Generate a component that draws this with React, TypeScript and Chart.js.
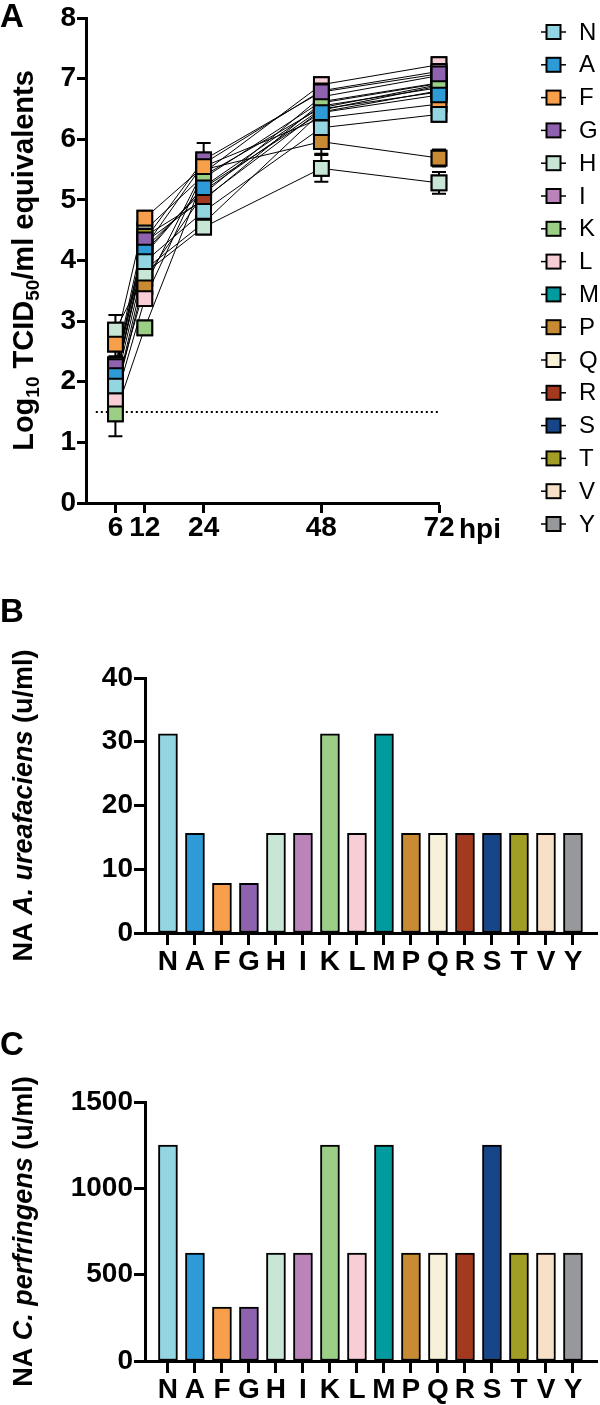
import React, { useEffect, useRef } from 'react';
import { Chart, registerables } from 'chart.js';

Chart.register(...registerables);
Chart.defaults.font.family = "'Liberation Sans', Arial, sans-serif";
Chart.defaults.color = '#000';

// ---------- data ----------
const groups = ['N', 'A', 'F', 'G', 'H', 'I', 'K', 'L', 'M', 'P', 'Q', 'R', 'S', 'T', 'V', 'Y'];
const groupColors = [
  '#93D5E0', '#2E9BD6', '#F79F4B', '#8E62AE', '#C7E6D5', '#BA84BB', '#9ACF85', '#F7CDD6',
  '#009B9E', '#C88B34', '#F7F1D9', '#A3391F', '#174688', '#A29D25', '#F6E0C7', '#97989C',
];
const timePoints = [6, 12, 24, 48, 72];
const xTicksA = [6, 12, 24, 48, 72];
const yTicksA = [0, 1, 2, 3, 4, 5, 6, 7, 8];
const detectionLimit = 1.5;

const titerN = [1.93, 3.98, 4.81, 6.19, 6.41];
const titerA = [2.10, 4.14, 5.20, 6.44, 6.73];
const titerF = [2.62, 4.70, 5.55, 6.35, 6.58];
const titerG = [2.25, 4.34, 5.66, 6.78, 7.08];
const titerH = [2.85, 3.79, 4.55, 5.52, 5.28];
const titerI = [2.20, 4.22, 5.60, 6.80, 7.12];
const titerK = [1.47, 2.89, 5.36, 6.62, 6.93];
const titerL = [1.69, 3.37, 5.45, 6.90, 7.23];
const titerM = [2.05, 4.10, 5.22, 6.55, 6.85];
const titerP = [1.85, 3.57, 5.50, 5.96, 5.69];
const titerQ = [1.78, 3.85, 4.62, 6.45, 6.80];
const titerR = [2.15, 4.30, 5.02, 6.48, 6.88];
const titerS = [2.00, 4.20, 5.15, 6.50, 6.78];
const titerT = [2.18, 4.40, 5.00, 6.60, 6.92];
const titerV = [1.75, 3.70, 5.10, 6.70, 7.05];
const titerY = [2.28, 4.50, 5.40, 6.52, 6.90];

const sdN = [0.10, 0.08, 0.08, 0.10, 0.08];
const sdA = [0.08, 0.08, 0.08, 0.08, 0.08];
const sdF = [0.20, 0.08, 0.08, 0.08, 0.08];
const sdG = [0.10, 0.10, 0.28, 0.08, 0.08];
const sdH = [0.25, 0.10, 0.10, 0.22, 0.18];
const sdI = [0.08, 0.08, 0.08, 0.08, 0.08];
const sdK = [0.37, 0.10, 0.10, 0.08, 0.08];
const sdL = [0.10, 0.10, 0.10, 0.07, 0.08];
const sdM = [0.08, 0.08, 0.08, 0.08, 0.08];
const sdP = [0.10, 0.10, 0.10, 0.20, 0.14];
const sdQ = [0.08, 0.08, 0.08, 0.08, 0.08];
const sdR = [0.08, 0.08, 0.08, 0.08, 0.08];
const sdS = [0.08, 0.08, 0.08, 0.08, 0.08];
const sdT = [0.08, 0.08, 0.08, 0.08, 0.08];
const sdV = [0.08, 0.08, 0.08, 0.08, 0.08];
const sdY = [0.08, 0.08, 0.08, 0.08, 0.08];

const titers = [titerN, titerA, titerF, titerG, titerH, titerI, titerK, titerL, titerM, titerP, titerQ, titerR, titerS, titerT, titerV, titerY];
const sds = [sdN, sdA, sdF, sdG, sdH, sdI, sdK, sdL, sdM, sdP, sdQ, sdR, sdS, sdT, sdV, sdY];

const naUreafaciens = [31.25, 15.63, 7.81, 7.81, 15.63, 15.63, 31.25, 15.63, 31.25, 15.63, 15.63, 15.63, 15.63, 15.63, 15.63, 15.63];
const naPerfringens = [1250, 625, 312.5, 312.5, 625, 625, 1250, 625, 1250, 625, 625, 625, 1250, 625, 625, 625];
const yTicksB = [0, 10, 20, 30, 40];
const yTicksC = [0, 500, 1000, 1500];

// ---------- helpers ----------
const FONT = "'Liberation Sans', Arial, sans-serif";

type Part = { text: string; font: string; dy?: number };

function drawVerticalRich(ctx: CanvasRenderingContext2D, parts: Part[], baselineX: number, centerY: number) {
  ctx.save();
  ctx.translate(baselineX, centerY);
  ctx.rotate(-Math.PI / 2);
  let total = 0;
  parts.forEach((p) => { ctx.font = p.font; total += ctx.measureText(p.text).width; });
  let x = -total / 2;
  ctx.fillStyle = '#000';
  ctx.textAlign = 'left';
  ctx.textBaseline = 'alphabetic';
  parts.forEach((p) => {
    ctx.font = p.font;
    ctx.fillText(p.text, x, p.dy || 0);
    x += ctx.measureText(p.text).width;
  });
  ctx.restore();
}

function drawPanelLetter(ctx: CanvasRenderingContext2D, letter: string, y: number) {
  ctx.save();
  ctx.font = `bold 33px ${FONT}`;
  ctx.fillStyle = '#000';
  ctx.textAlign = 'left';
  ctx.textBaseline = 'alphabetic';
  ctx.fillText(letter, 0, y);
  ctx.restore();
}

function fixFit(size: { width?: number; height?: number }) {
  return (s: any) => {
    if (size.width !== undefined) s.width = size.width;
    if (size.height !== undefined) s.height = size.height;
    s.paddingLeft = 0; s.paddingRight = 0; s.paddingTop = 0; s.paddingBottom = 0;
  };
}

const axisGrid = (tickLength: number) => ({
  display: true, drawOnChartArea: false, drawTicks: true, tickLength, tickWidth: 3, tickColor: '#000', offset: false,
});
const axisBorder = { display: true, width: 3, color: '#000' };
const plainNumber = (v: number) => String(v);

// ---------- panel A ----------
function configA(): any {
  const datasets: any[] = groups.map((g, i) => ({
    label: g,
    data: timePoints.map((t, j) => ({ x: t, y: titers[i][j] })),
    borderColor: '#000',
    borderWidth: 1,
    pointStyle: 'rect',
    pointRadius: 10.4,
    pointHoverRadius: 10.4,
    pointBackgroundColor: groupColors[i],
    pointBorderColor: '#000',
    pointBorderWidth: 2,
    fill: false,
    tension: 0,
    clip: false,
  }));
  datasets.push({
    label: 'limit',
    data: [{ x: 2, y: detectionLimit }, { x: 72, y: detectionLimit }],
    borderColor: '#000',
    borderWidth: 2,
    borderDash: [2, 3],
    pointRadius: 0,
    fill: false,
    order: 100,
  });
  const decor = {
    id: 'decorA',
    afterDatasetsDraw(chart: any) {
      const ctx = chart.ctx;
      const xs = chart.scales.x, ys = chart.scales.y;
      ctx.save();
      ctx.strokeStyle = '#000';
      ctx.lineWidth = 2;
      titers.forEach((vals, i) => vals.forEach((v, j) => {
        const sd = sds[i][j];
        const px = xs.getPixelForValue(timePoints[j]);
        const top = ys.getPixelForValue(v + sd);
        const bot = ys.getPixelForValue(v - sd);
        ctx.beginPath();
        ctx.moveTo(px, top); ctx.lineTo(px, bot);
        ctx.moveTo(px - 7, top); ctx.lineTo(px + 7, top);
        ctx.moveTo(px - 7, bot); ctx.lineTo(px + 7, bot);
        ctx.stroke();
      }));
      ctx.restore();
      // markers on top of every line; first groups end up on top
      for (let i = groups.length - 1; i >= 0; i--) {
        const meta = chart.getDatasetMeta(i);
        meta.data.forEach((p: any) => p.draw(ctx, chart.chartArea));
      }
    },
    afterDraw(chart: any) {
      const ctx = chart.ctx;
      const area = chart.chartArea;
      drawPanelLetter(ctx, 'A', 27);
      const big = `bold 29px ${FONT}`;
      const sub = `bold 19px ${FONT}`;
      drawVerticalRich(ctx, [
        { text: 'Log', font: big },
        { text: '10', font: sub, dy: 6 },
        { text: ' TCID', font: big },
        { text: '50', font: sub, dy: 6 },
        { text: '/ml equivalents', font: big },
      ], 33, (area.top + area.bottom) / 2);
      // hpi label
      ctx.save();
      ctx.font = `bold 28px ${FONT}`;
      ctx.fillStyle = '#000';
      ctx.textAlign = 'left';
      ctx.textBaseline = 'alphabetic';
      ctx.fillText('hpi', 459, 538);
      ctx.restore();
      // legend
      ctx.save();
      groups.forEach((g, i) => {
        const cy = 32 + i * 32.8;
        ctx.strokeStyle = '#000';
        ctx.lineWidth = 1.5;
        ctx.beginPath();
        ctx.moveTo(541, cy); ctx.lineTo(566, cy);
        ctx.stroke();
        ctx.fillStyle = groupColors[i];
        ctx.fillRect(546.5, cy - 7, 14, 14);
        ctx.lineWidth = 2;
        ctx.strokeRect(546.5, cy - 7, 14, 14);
        ctx.fillStyle = '#000';
        ctx.font = `24px ${FONT}`;
        ctx.textAlign = 'left';
        ctx.textBaseline = 'middle';
        ctx.fillText(g, 579, cy + 1);
      });
      ctx.restore();
    },
  };
  return {
    type: 'line',
    data: { datasets },
    plugins: [decor],
    options: {
      responsive: false,
      animation: false,
      devicePixelRatio: 1,
      layout: { padding: { top: 18, right: 161, left: 0, bottom: 0 } },
      plugins: { legend: { display: false }, tooltip: { enabled: false } },
      scales: {
        x: {
          type: 'linear', min: 0, max: 72,
          afterBuildTicks: (s: any) => { s.ticks = xTicksA.map((v) => ({ value: v })); },
          afterFit: fixFit({ height: 57 }),
          grid: axisGrid(10),
          border: axisBorder,
          ticks: { font: { size: 28, weight: 'bold', lineHeight: 1 }, color: '#000', padding: 1, maxRotation: 0, autoSkip: false, callback: plainNumber },
        },
        y: {
          type: 'linear', min: 0, max: 8,
          afterBuildTicks: (s: any) => { s.ticks = yTicksA.map((v) => ({ value: v })); },
          afterFit: fixFit({ width: 86 }),
          grid: axisGrid(9),
          border: axisBorder,
          ticks: { font: { size: 28, weight: 'bold' }, color: '#000', padding: 1, callback: plainNumber },
        },
      },
    },
  };
}

// ---------- panels B & C ----------
function configBar(values: number[], yTicks: number[], yMax: number, title: Part[], letter: string, letterY: number, padTop: number, xHeight: number): any {
  const decor = {
    id: 'decorBar' + letter,
    afterDraw(chart: any) {
      const ctx = chart.ctx;
      const area = chart.chartArea;
      drawPanelLetter(ctx, letter, letterY);
      drawVerticalRich(ctx, title, 32, (area.top + area.bottom) / 2);
    },
  };
  return {
    type: 'bar',
    data: {
      datasets: [{
        label: letter,
        data: values.map((v, i) => ({ x: i, y: v })),
        backgroundColor: groupColors,
        borderColor: '#000',
        borderWidth: 2,
        borderSkipped: false,
        barThickness: 19,
      }],
    },
    plugins: [decor],
    options: {
      responsive: false,
      animation: false,
      devicePixelRatio: 1,
      layout: { padding: { top: padTop, right: 3, left: 0, bottom: 0 } },
      plugins: { legend: { display: false }, tooltip: { enabled: false } },
      scales: {
        x: {
          type: 'linear', min: -0.85, max: 15.89, offset: false,
          afterBuildTicks: (s: any) => { s.ticks = groups.map((g, i) => ({ value: i })); },
          afterFit: fixFit({ height: xHeight }),
          grid: axisGrid(12),
          border: axisBorder,
          ticks: {
            font: { size: 28, weight: 'bold', lineHeight: 1 }, color: '#000', padding: 3, maxRotation: 0, autoSkip: false,
            callback: (v: number) => groups[Math.round(v)] ?? '',
          },
        },
        y: {
          type: 'linear', min: 0, max: yMax,
          afterBuildTicks: (s: any) => { s.ticks = yTicks.map((v) => ({ value: v })); },
          afterFit: fixFit({ width: 145 }),
          grid: axisGrid(11),
          border: axisBorder,
          ticks: { font: { size: 28, weight: 'bold' }, color: '#000', padding: 1, callback: plainNumber },
        },
      },
    },
  };
}

function configB(): any {
  const f = `bold 27px ${FONT}`;
  const fi = `italic bold 27px ${FONT}`;
  return configBar(naUreafaciens, yTicksB, 40, [
    { text: 'NA ', font: f }, { text: 'A. ureafaciens', font: fi }, { text: ' (u/ml)', font: f },
  ], 'B', 52, 108, 57);
}

function configC(): any {
  const f = `bold 27px ${FONT}`;
  const fi = `italic bold 27px ${FONT}`;
  return configBar(naPerfringens, yTicksC, 1500, [
    { text: 'NA ', font: f }, { text: 'C. perfringens', font: fi }, { text: ' (u/ml)', font: f },
  ], 'C', 65, 112, 44);
}

function ChartCanvas({ make, top, height }: { make: () => any; top: number; height: number }) {
  const ref = useRef<HTMLCanvasElement>(null);
  useEffect(() => {
    const chart = new Chart(ref.current as HTMLCanvasElement, make());
    return () => chart.destroy();
  }, []);
  return (
    <canvas
      ref={ref}
      width={600}
      height={height}
      style={{ position: 'absolute', left: 0, top, width: 600, height, display: 'block' }}
    />
  );
}

export default function App() {
  return (
    <div style={{ position: 'absolute', left: 0, top: 0, width: 600, height: 1405, background: '#fff', overflow: 'hidden' }}>
      <ChartCanvas make={configA} top={0} height={560} />
      <ChartCanvas make={configB} top={570} height={420} />
      <ChartCanvas make={configC} top={990} height={415} />
    </div>
  );
}
